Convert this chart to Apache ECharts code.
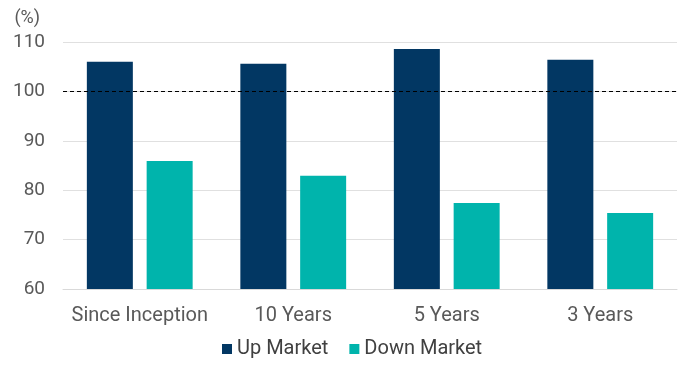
<!DOCTYPE html>
<html><head><meta charset="utf-8">
<script src="https://cdn.jsdelivr.net/npm/echarts@6/dist/echarts.min.js"></script>
<style>html,body{margin:0;padding:0;background:#fff}#c{width:691px;height:368px}</style>
</head><body><div id="c"></div>
<script>
const categories = ['Since Inception', '10 Years', '5 Years', '3 Years'];
const upMarket = [106.0, 105.6, 108.6, 106.4];
const downMarket = [85.9, 82.9, 77.4, 75.4];
const yTicks = [60, 70, 80, 90, 100, 110];
const refValue = 100;

const chart = echarts.init(document.getElementById('c'));
chart.setOption({
  animation: false,
  textStyle: {fontFamily: 'Roboto'},
  grid: {left: 63, right: 14, top: 42, bottom: 79, containLabel: false},
  legend: {
    bottom: 4, left: 217,
    itemWidth: 10, itemHeight: 10, itemGap: 21,
    icon: 'rect',
    textStyle: {fontSize: 20, color: '#404040', fontFamily: 'Roboto'},
    data: ['Up Market', 'Down Market']
  },
  xAxis: {
    type: 'category', data: categories,
    axisLine: {lineStyle: {color: '#d9d9d9', width: 1}},
    axisTick: {show: false},
    axisLabel: {fontSize: 20, color: '#595959', margin: 17, interval: 0}
  },
  yAxis: {
    type: 'value', min: yTicks[0], max: yTicks[yTicks.length - 1], interval: 10,
    name: '(%)', nameLocation: 'end', nameGap: 15,
    nameTextStyle: {fontSize: 18, color: '#595959', align: 'right', padding: [0, 23, 0, 0]},
    axisLine: {show: false}, axisTick: {show: false},
    splitLine: {lineStyle: {color: '#e0e0e0'}},
    axisLabel: {fontSize: 19, color: '#595959', margin: 18}
  },
  series: [
    {
      name: 'Up Market', type: 'bar', data: upMarket,
      barWidth: 46, barGap: '30%',
      itemStyle: {color: '#023763'},
      markLine: {
        silent: true, symbol: 'none', label: {show: false},
        lineStyle: {color: '#000', type: [4, 3], width: 1},
        data: [{yAxis: refValue}]
      }
    },
    {
      name: 'Down Market', type: 'bar', data: downMarket,
      barWidth: 46,
      itemStyle: {color: '#00B4AC'}
    }
  ]
});
</script></body></html>
